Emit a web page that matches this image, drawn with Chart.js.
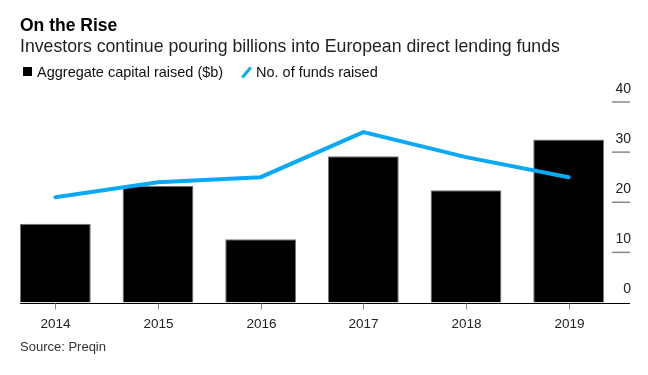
<!DOCTYPE html>
<html>
<head>
<meta charset="utf-8">
<script src="https://cdn.jsdelivr.net/npm/chart.js@4/dist/chart.umd.min.js"></script>
<style>
  body { margin: 0; background: #fff; }
  #wrap { position: relative; width: 648px; height: 375px; font-family: "Liberation Sans", Arial, sans-serif; color: #1a1a1a; }
  #wrap canvas { position: absolute; left: 0; top: 0; }
  .txt { position: absolute; left: 20px; white-space: nowrap; }
  .title { top: 17px; font-size: 17.5px; line-height: 17.5px; font-weight: bold; color: #000; }
  .sub { top: 38px; font-size: 17.7px; line-height: 17.7px; color: #222; }
  .legend { top: 65px; font-size: 14.5px; line-height: 14.5px; color: #111; }
  .legend .sq { display: inline-block; width: 9px; height: 9px; background: #000; position: absolute; left: 3px; top: 2px; }
  .legend .t1 { position: absolute; left: 17px; }
  .legend .sl { position: absolute; left: 225px; top: 1px; width: 3px; height: 13px; background: #0aa9f5; transform: rotate(40deg); }
  .legend .t2 { position: absolute; left: 236px; }
  .source { top: 340px; font-size: 13px; line-height: 13px; color: #333; }
</style>
</head>
<body>
<div id="wrap">
  <canvas id="chart" width="648" height="375"></canvas>
  <div class="txt title">On the Rise</div>
  <div class="txt sub">Investors continue pouring billions into European direct lending funds</div>
  <div class="txt legend"><span class="sq"></span><span class="t1">Aggregate capital raised ($b)</span><span class="sl"></span><span class="t2">No. of funds raised</span></div>
  <div class="txt source">Source: Preqin</div>
</div>
<script>
var years = ["2014", "2015", "2016", "2017", "2018", "2019"];
var capitalRaised = [15.7, 23.3, 12.6, 29.2, 22.4, 32.5];
var fundsRaised = [21, 24, 25, 34, 29, 25];
var yTicks = [0, 10, 20, 30, 40];

// axis marks are drawn by hand so they sit like the original (short dashes on the right)
var axisMarks = {
    id: 'axisMarks',
    afterDatasetsDraw: function(chart) {
        var ctx = chart.ctx;
        var area = chart.chartArea;
        var x = chart.scales.x;
        var y = chart.scales.y;
        var base = Math.round(y.getPixelForValue(0)) + 0.5;

        ctx.save();
        ctx.strokeStyle = '#000';
        ctx.lineWidth = 1;
        ctx.beginPath();
        ctx.moveTo(area.left + 16, base);
        ctx.lineTo(area.right + 10, base);
        ctx.stroke();

        ctx.strokeStyle = '#888';
        ctx.font = '13.5px "Liberation Sans", Arial, sans-serif';
        ctx.fillStyle = '#222';
        ctx.textAlign = 'center';
        ctx.textBaseline = 'middle';
        years.forEach(function(yr, i) {
            var px = Math.round(x.getPixelForValue(i)) + 0.5;
            ctx.beginPath();
            ctx.moveTo(px, base);
            ctx.lineTo(px, base + 6);
            ctx.stroke();
            ctx.fillText(yr, px, base + 21);
        });

        ctx.lineWidth = 1.5;
        ctx.textAlign = 'right';
        ctx.font = '14px "Liberation Sans", Arial, sans-serif';
        yTicks.forEach(function(v) {
            var py = y.getPixelForValue(v);
            if (v !== 0) {
                ctx.beginPath();
                ctx.moveTo(area.right - 8, py);
                ctx.lineTo(area.right + 10, py);
                ctx.stroke();
            }
            ctx.fillText(String(v), area.right + 11, py - 13);
        });
        ctx.restore();
    }
};

var ctx = document.getElementById('chart').getContext('2d');
var myChart = new Chart(ctx, {
    type: 'bar',
    data: {
        labels: years,
        datasets: [{
            type: 'line',
            label: 'No. of funds raised',
            data: fundsRaised,
            borderColor: '#0aa9f5',
            borderWidth: 4,
            pointRadius: 0,
            tension: 0,
            borderCapStyle: 'round',
            order: 0
        }, {
            type: 'bar',
            label: 'Aggregate capital raised ($b)',
            data: capitalRaised,
            backgroundColor: '#000',
            borderColor: '#777',
            borderWidth: 1,
            barPercentage: 0.69,
            categoryPercentage: 1,
            order: 1
        }]
    },
    options: {
        responsive: false,
        animation: false,
        layout: {
            padding: { left: 4, right: 28, top: 102, bottom: 72.5 }
        },
        scales: {
            x: { display: false },
            y: { display: false, min: 0, max: 40 }
        },
        plugins: {
            legend: { display: false },
            tooltip: { enabled: false }
        }
    },
    plugins: [axisMarks]
});
</script>
</body>
</html>
